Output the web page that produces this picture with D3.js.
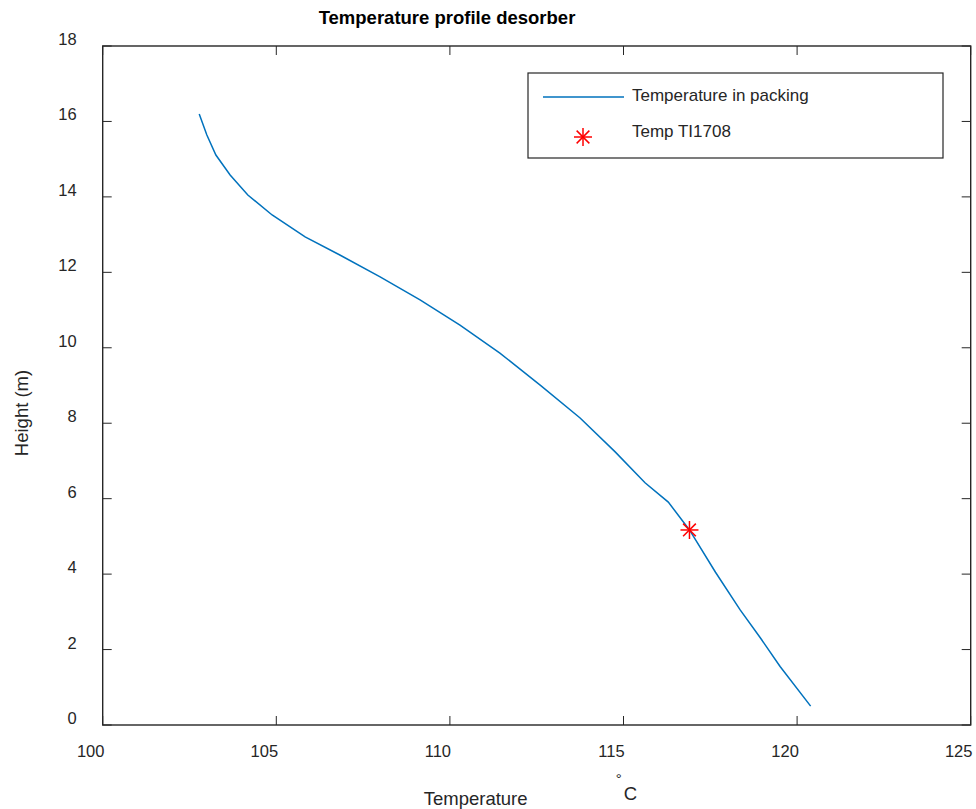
<!DOCTYPE html>
<html>
<head>
<meta charset="utf-8">
<script src="https://cdn.jsdelivr.net/npm/d3@7"></script>
<style>
  body { margin: 0; background: #fff; }
  text { font-family: "Liberation Sans", Arial, sans-serif; fill: #262626; }
</style>
</head>
<body>
<div id="chart"></div>
<script>
const w = 976;
const h = 809;

// temperature profile in packing (deg C vs height in m)
const temperature = [102.78, 103.00, 103.26, 103.67, 104.18, 104.88, 105.83, 106.83, 107.99, 109.14,
                     110.29, 111.44, 112.60, 113.75, 114.76, 115.62, 116.29, 116.90, 117.65, 118.36, 118.95, 119.51, 120.39];
const height = [16.20, 15.64, 15.11, 14.58, 14.05, 13.52, 12.94, 12.46, 11.88, 11.27,
                10.60, 9.86, 9.01, 8.14, 7.24, 6.42, 5.91, 5.17, 4.05, 3.05, 2.30, 1.55, 0.50];
// measured point TI1708
const sensorTemp = [116.9];
const sensorHeight = [5.17];

const xTicks = [100, 105, 110, 115, 120, 125];
const yTicks = [0, 2, 4, 6, 8, 10, 12, 14, 16, 18];

const margin = {left: 102.7, right: w - 970.7, top: 46, bottom: h - 725};
const innerW = w - margin.left - margin.right;
const innerH = h - margin.top - margin.bottom;

const axisColor = "#262626";
const lineColor = "#0072BD";
const starColor = "#FF0000";

const svg = d3.select("#chart").append("svg").attr("width", w).attr("height", h);
const g = svg.append("g").attr("transform", "translate(" + [margin.left, margin.top] + ")");

const x = d3.scaleLinear().domain([100, 125]).range([0, innerW]);
const y = d3.scaleLinear().domain([0, 18]).range([innerH, 0]);

//ticks inside on all four sides
const tickLen = 9;
const tickG = g.append("g").attr("stroke", axisColor).attr("stroke-width", 1);
xTicks.forEach(t => {
    tickG.append("line").attr("x1", x(t)).attr("x2", x(t)).attr("y1", innerH).attr("y2", innerH - tickLen);
    tickG.append("line").attr("x1", x(t)).attr("x2", x(t)).attr("y1", 0).attr("y2", tickLen);
});
yTicks.forEach(t => {
    tickG.append("line").attr("y1", y(t)).attr("y2", y(t)).attr("x1", 0).attr("x2", tickLen);
    tickG.append("line").attr("y1", y(t)).attr("y2", y(t)).attr("x1", innerW).attr("x2", innerW - tickLen);
});

//tick labels
g.append("g").selectAll("text").data(xTicks).enter().append("text")
    .attr("x", d => x(d) - 12)
    .attr("y", innerH + 32)
    .attr("text-anchor", "middle")
    .style("font-size", "16.5px")
    .text(d => d);

g.append("g").selectAll("text").data(yTicks).enter().append("text")
    .attr("x", -26)
    .attr("y", d => y(d) - 1)
    .attr("text-anchor", "end")
    .style("font-size", "16.5px")
    .text(d => d);

//box
g.append("rect")
    .attr("width", innerW).attr("height", innerH)
    .attr("fill", "none").attr("stroke", axisColor).attr("stroke-width", 1.4);

//profile line
const line = d3.line().x(d => x(d[0])).y(d => y(d[1]));
g.append("path")
    .datum(temperature.map((t, i) => [t, height[i]]))
    .attr("d", line)
    .attr("fill", "none")
    .attr("stroke", lineColor)
    .attr("stroke-width", 1.5);

//asterisk marker
function star(sel, cx, cy, r) {
    const sg = sel.append("g").attr("stroke", starColor).attr("stroke-width", 1.5);
    const d = r * Math.SQRT1_2;
    sg.append("line").attr("x1", cx - r).attr("x2", cx + r).attr("y1", cy).attr("y2", cy);
    sg.append("line").attr("x1", cx).attr("x2", cx).attr("y1", cy - r).attr("y2", cy + r);
    sg.append("line").attr("x1", cx - d).attr("x2", cx + d).attr("y1", cy - d).attr("y2", cy + d);
    sg.append("line").attr("x1", cx - d).attr("x2", cx + d).attr("y1", cy + d).attr("y2", cy - d);
}
sensorTemp.forEach((t, i) => star(g, x(t), y(sensorHeight[i]), 9));

//legend
const lgX = innerW - 27.7 - 415, lgY = 27;
const lg = g.append("g").attr("transform", "translate(" + [lgX, lgY] + ")");
lg.append("rect").attr("width", 415).attr("height", 85)
    .attr("fill", "#fff").attr("stroke", axisColor).attr("stroke-width", 1.2);
lg.append("line").attr("x1", 15).attr("x2", 96).attr("y1", 24).attr("y2", 24)
    .attr("stroke", lineColor).attr("stroke-width", 1.5);
star(lg, 55, 64, 9);
lg.append("text").attr("x", 104).attr("y", 28).style("font-size", "17px").text("Temperature in packing");
lg.append("text").attr("x", 104).attr("y", 64).style("font-size", "17px").text("Temp TI1708");

//title
svg.append("text")
    .attr("x", 447).attr("y", 24)
    .attr("text-anchor", "middle")
    .style("font-size", "18.5px").style("font-weight", "bold")
    .style("fill", "#000")
    .text("Temperature profile desorber");

//axis labels
const cx = margin.left + innerW / 2;
svg.append("text").attr("x", cx - 113).attr("y", 805).style("font-size", "18.5px").text("Temperature");
svg.append("text").attr("x", cx + 79).attr("y", 784).style("font-size", "15px").text("\u00B0");
svg.append("text").attr("x", cx + 87).attr("y", 800).style("font-size", "18.5px").text("C");

svg.append("text")
    .attr("transform", "translate(28,413) rotate(-90)")
    .attr("text-anchor", "middle")
    .style("font-size", "18.5px")
    .text("Height (m)");
</script>
</body>
</html>
